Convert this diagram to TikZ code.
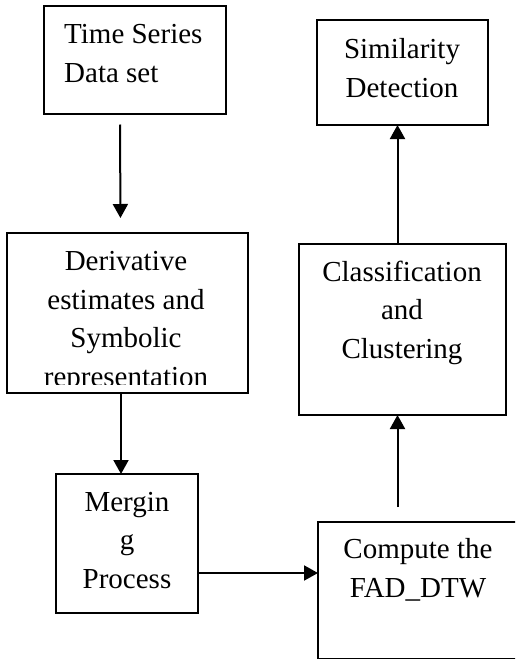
\documentclass[tikz,border=0pt]{standalone}
\usepackage{fontspec}
\setmainfont{Liberation Serif}
\usetikzlibrary{arrows.meta}

\tikzset{
  box/.style={draw, line width=2pt, inner sep=0pt, outer sep=0pt},
  txt/.style={inner sep=0pt, align=center, font=\fontsize{29}{38.5}\selectfont},
  arr/.style={line width=2pt, -{Triangle[length=14pt,width=15pt]}},
}

\begin{document}
\begin{tikzpicture}[x=1pt, y=-1pt]
  \useasboundingbox (0,0) rectangle (515,659);
  \clip (0,0) rectangle (515,659);

  % process boxes
  \node[box, minimum width=182pt, minimum height=108pt] (b1) at (134.5,59.5) {};
  \node[box, minimum width=241pt, minimum height=160pt] (b2) at (127.5,313) {};
  \node[box, minimum width=142pt, minimum height=139pt] (b3) at (127,543.5) {};
  \node[box, minimum width=220pt, minimum height=137pt] (b4) at (428,590.5) {};
  \node[box, minimum width=207pt, minimum height=171pt] (b5) at (402.5,329.5) {};
  \node[box, minimum width=171pt, minimum height=105pt] (b6) at (402.5,72.5) {};

  % box labels (placed by the baseline of their last line)
  \node[txt, align=left, anchor=base west] (t1) at (64,82) {Time Series\\Data set};
  \node[txt, anchor=base] (t6) at (402,97) {Similarity\\Detection};
  \begin{scope}
    \clip ([yshift=9pt]b2.south west) rectangle (b2.north east);
    \node[txt, anchor=base] (t2) at (126,386)
      {Derivative\\estimates and\\Symbolic\\representation};
  \end{scope}
  \node[txt, anchor=base] (t5) at (402,358) {Classification\\and\\Clustering};
  \node[txt, anchor=base] (t3) at (127,588) {Mergin\\g\\Process};
  \node[txt, anchor=base] (t4) at (418,597) {Compute the\\FAD\_DTW};

  % connectors
  \draw[arr, shorten <=11pt, shorten >=15pt]
    ([xshift=-14.5pt]b1.south) -- ([xshift=-7pt]b2.north);
  \draw[arr] ([xshift=-6.5pt]b2.south) -- ([xshift=-6pt]b3.north);
  \coordinate (m3) at ([yshift=-29.5pt]b3.east);
  \draw[arr] (m3) -- (m3 -| b4.west);
  \coordinate (c4) at ([xshift=-5pt]b5.south);
  \draw[arr, shorten <=15pt] (c4 |- b4.north) -- (c4);
  \coordinate (c5) at ([xshift=-5pt]b6.south);
  \draw[arr] (c5 |- b5.north) -- (c5);
\end{tikzpicture}
\end{document}
